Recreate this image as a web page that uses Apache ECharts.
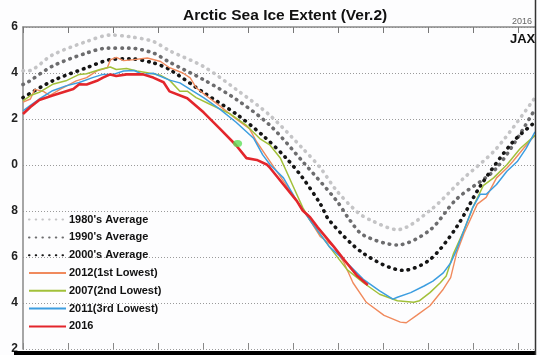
<!DOCTYPE html>
<html>
<head>
<meta charset="utf-8">
<script src="https://cdn.jsdelivr.net/npm/echarts@6/dist/echarts.min.js"></script>
<style>html,body{margin:0;padding:0;background:#fdfdfe;}#c{width:540px;height:355px;}</style>
</head>
<body>
<div id="c"></div>
<script>
// x = day of year, y = extent (million km2)
const avg1980s = [[0,14.1],[3,14.09],[20,14.79],[43,15.37],[59,15.65],[72,15.58],[88,15.37],[99,14.97],[122,14.28],[144,13.29],[167,12.15],[189,10.72],[201,9.87],[212,8.88],[226,7.95],[235,7.6],[253,7.19],[275,8.02],[297,9.38],[320,10.72],[346,12.93]];
const avg1990s = [[0,13.5],[3,13.59],[20,14.3],[43,14.87],[57,15.08],[72,15.08],[88,14.87],[99,14.47],[122,13.71],[144,12.86],[167,11.72],[189,10.15],[212,8.44],[221,7.59],[230,6.95],[253,6.52],[275,7.17],[293,8.52],[320,9.87],[346,12.43]];
const avg2000s = [[0,12.93],[20,13.66],[43,14.23],[59,14.58],[72,14.62],[88,14.44],[99,14.15],[122,13.15],[144,12.22],[162,11.29],[178,10.29],[189,9.44],[201,8.3],[207,7.59],[230,6.16],[257,5.42],[275,5.89],[293,7.3],[309,9.08],[331,11.0],[346,11.86]];
const y2012 = [[0,12.73],[5,12.87],[8,13.29],[14,13.19],[18,13.02],[25,13.29],[36,13.66],[43,13.8],[50,14.09],[57,14.23],[59,14.57],[63,14.68],[68,14.54],[75,14.58],[84,14.65],[93,14.5],[99,14.23],[108,14.0],[113,13.79],[117,13.36],[124,13.0],[133,12.57],[144,12.0],[153,11.58],[158,11.0],[167,10.15],[176,9.3],[185,8.44],[194,7.59],[201,6.88],[210,6.45],[217,5.74],[223,4.88],[232,4.03],[244,3.46],[255,3.17],[259,3.14],[266,3.46],[275,3.88],[284,4.6],[289,5.1],[293,6.16],[298,7.02],[307,8.3],[313,8.59],[320,9.44],[327,9.87],[331,10.15],[340,10.86],[346,11.29]];
const y2007 = [[0,12.79],[5,13.02],[11,13.16],[20,13.51],[29,13.66],[38,13.94],[43,13.97],[52,14.15],[59,14.26],[63,14.15],[70,14.2],[77,14.09],[84,14.01],[93,13.9],[99,13.69],[106,13.21],[111,13.21],[117,12.93],[126,12.65],[140,12.22],[151,11.72],[160,11.15],[167,10.86],[174,10.29],[178,9.73],[183,9.01],[189,8.16],[194,7.59],[207,6.45],[219,5.45],[230,4.88],[241,4.38],[253,4.1],[264,4.03],[268,4.1],[275,4.45],[282,4.88],[286,5.17],[291,6.16],[298,7.16],[304,8.16],[311,9.1],[318,9.44],[327,10.01],[336,10.72],[346,11.29]];
const y2011 = [[0,12.35],[5,12.59],[11,12.87],[20,13.23],[29,13.44],[38,13.59],[47,13.8],[54,13.94],[61,13.94],[68,14.09],[75,14.11],[81,13.94],[88,13.99],[99,13.69],[106,13.57],[113,13.29],[122,12.93],[133,12.43],[144,11.86],[156,11.15],[162,10.44],[167,10.01],[176,9.44],[185,8.44],[194,7.59],[207,6.45],[219,5.74],[230,5.03],[241,4.53],[250,4.17],[253,4.25],[262,4.45],[271,4.74],[277,4.95],[284,5.31],[289,5.74],[293,6.31],[298,7.16],[304,8.16],[309,8.73],[313,8.73],[320,9.15],[327,9.73],[334,10.15],[340,10.72],[346,11.44]];
const y2016 = [[0,12.22],[5,12.52],[11,12.83],[20,13.02],[27,13.16],[34,13.3],[38,13.51],[43,13.5],[50,13.66],[54,13.8],[59,13.94],[63,13.87],[70,13.94],[77,13.94],[81,13.94],[88,13.8],[95,13.6],[99,13.2],[111,12.9],[122,12.29],[133,11.58],[144,10.86],[151,10.3],[158,10.22],[165,10.01],[167,9.87],[176,9.15],[185,8.44],[189,8.02],[194,7.73],[199,7.3],[210,6.45],[217,5.88],[226,5.17],[233,4.78]];
const greenSpot = [[145,10.94]];
const yTickValues = [2,4,6,8,10,12,14,16];
const yTickLabels = ['2','4','6','8','0','2','4','6'];
const seriesNames = ["1980's Average","1990's Average","2000's Average","2012(1st Lowest)","2007(2nd Lowest)","2011(3rd Lowest)","2016"];

const chart = echarts.init(document.getElementById('c'), null, {renderer:'canvas'});
const dotStyle = (color) => ({color: color, width: 3.6, type: [0.5, 6.2], cap: 'round'});
function line(name, data, ls, z, smooth) {
  return {name, type:'line', data, symbol:'none', smooth: smooth ? 0.3 : false, lineStyle: ls, itemStyle:{color: ls.color}, z, animation:false};
}
chart.setOption({
  backgroundColor: '#fdfdfe',
  animation: false,
  title: {text: 'Arctic Sea Ice Extent (Ver.2)', left: 178, top: 3,
    textStyle: {fontFamily: 'Liberation Sans, Arial, sans-serif', fontSize: 15.5, fontWeight: 'bold', color: '#111'}},
  grid: {left: 23, right: 5, top: 27, height: 327},
  xAxis: [
    {type:'value', min:0, max:346, interval:365/12, position:'top',
     axisLine:{show:true, lineStyle:{color:'#888', width:1.5}},
     axisTick:{show:true, inside:true, length:6, lineStyle:{color:'#777', width:1}},
     axisLabel:{show:false}, splitLine:{show:false}},
    {type:'value', min:0, max:346, interval:365/12, position:'bottom',
     axisLine:{show:false},
     axisTick:{show:true, inside:true, length:6, lineStyle:{color:'#888', width:1}},
     axisLabel:{show:false}, splitLine:{show:false}}
  ],
  yAxis: {type:'value', min:2, max:16, interval:2,
    axisLine:{show:true, lineStyle:{color:'#888', width:1.5}},
    axisTick:{show:false},
    axisLabel:{margin:5, fontFamily:'Liberation Sans, Arial, sans-serif', fontSize:12, fontWeight:'bold', color:'#222',
      formatter: v => yTickLabels[yTickValues.indexOf(v)]},
    splitLine:{show:true, lineStyle:{color:'#9a9a9a', width:1, type:[1,2]}}},
  legend: {orient:'vertical', left:23, top:209, itemWidth:37, itemHeight:14, itemGap:6.6,
    data: seriesNames, selectedMode:false,
    itemStyle:{opacity:0, borderWidth:0},
    textStyle:{fontFamily:'Liberation Sans, Arial, sans-serif', fontSize:11, fontWeight:'bold', color:'#111', padding:[0,0,0,-2]}},
  series: [
    line(seriesNames[0], avg1980s, dotStyle('#c4c4c6'), 2, true),
    line(seriesNames[1], avg1990s, dotStyle('#6c6c6e'), 2, true),
    line(seriesNames[2], avg2000s, dotStyle('#151515'), 2, true),
    line(seriesNames[3], y2012, {color:'#f08a5d', width:1.4}, 3),
    line(seriesNames[4], y2007, {color:'#a2c03a', width:1.5}, 3),
    line(seriesNames[5], y2011, {color:'#3d9ee0', width:1.5}, 3),
    line(seriesNames[6], y2016, {color:'#e3262c', width:2.6}, 4),
    {type:'scatter', data: greenSpot, symbol:'circle', symbolSize:[9,7], itemStyle:{color:'#5fe05a'}, z:5, silent:true, animation:false}
  ],
  graphic: [
    {type:'rect', shape:{x:14, y:351, width:526, height:4}, style:{fill:'#000'}, z:100},
    {type:'text', left:512, top:17, style:{text:'2016', font:'9px "Liberation Sans", Arial, sans-serif', fill:'#666'}, z:100},
    {type:'text', left:510, top:33, style:{text:'JAXA', font:'bold 13px "Liberation Sans", Arial, sans-serif', fill:'#111'}, z:100},
    {type:'rect', shape:{x:536, y:0, width:4, height:355}, style:{fill:'#fdfdfe'}, z:101},
    {type:'line', shape:{x1:535.5, y1:0, x2:535.5, y2:355}, style:{stroke:'#333', lineWidth:1.5}, z:102}
  ]
});
</script>
</body>
</html>
